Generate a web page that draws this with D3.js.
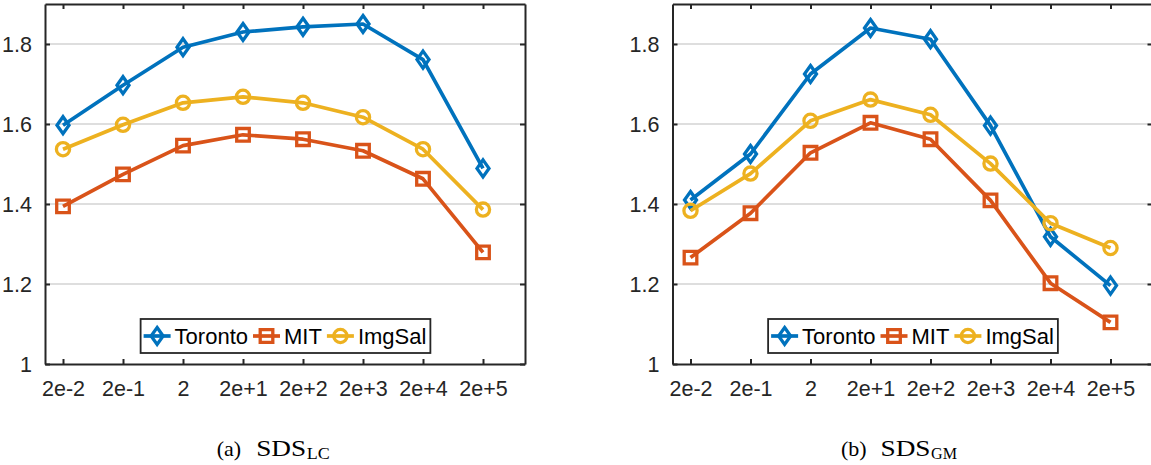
<!DOCTYPE html>
<html>
<head>
<meta charset="utf-8">
<script src="https://cdn.jsdelivr.net/npm/d3@7/dist/d3.min.js"></script>
<style>
  html, body { margin: 0; padding: 0; background: #fff; }
  svg { display: block; }
</style>
</head>
<body>
<svg id="fig" width="1151" height="465"></svg>
<script>
// Parameter settings on the x axis
const categories = ["2e-2", "2e-1", "2", "2e+1", "2e+2", "2e+3", "2e+4", "2e+5"];
const yTicks = [1, 1.2, 1.4, 1.6, 1.8];
const yTickLabels = ["1", "1.2", "1.4", "1.6", "1.8"];
const seriesNames = ["Toronto", "MIT", "ImgSal"];

// SDS_LC
const torontoLC = [1.597, 1.697, 1.792, 1.830, 1.843, 1.850, 1.761, 1.489];
const mitLC     = [1.394, 1.474, 1.546, 1.573, 1.562, 1.533, 1.463, 1.279];
const imgsalLC  = [1.537, 1.598, 1.653, 1.668, 1.653, 1.617, 1.537, 1.386];

// SDS_GM
const torontoGM = [1.410, 1.525, 1.725, 1.840, 1.812, 1.596, 1.318, 1.196];
const mitGM     = [1.266, 1.377, 1.528, 1.603, 1.562, 1.409, 1.202, 1.104];
const imgsalGM  = [1.383, 1.476, 1.608, 1.661, 1.623, 1.501, 1.352, 1.290];

const colors = ["#0072BD", "#D95319", "#EDB120"];
const markers = ["diamond", "square", "circle"];
const axisColor = "#262626";
const fontSans = "'Liberation Sans', Arial, Helvetica, sans-serif";
const fontSerif = "'Liberation Serif', 'Times New Roman', Times, serif";

const svg = d3.select("#fig");

function markerPath(type) {
  if (type === "diamond") return "M0,-8.5L6,0L0,8.5L-6,0Z";
  if (type === "square") return "M-6.3,-6.3H6.3V6.3H-6.3Z";
  const r = 6.6;
  return `M${r},0A${r},${r} 0 1,1 ${-r},0A${r},${r} 0 1,1 ${r},0Z`;
}

function drawPanel(x0, series, caption, sub, capX) {
  const top = 4, bottom = 364, width = 480;
  const x = d3.scaleLinear().domain([-0.3, 7.7]).range([x0, x0 + width]);
  const y = d3.scaleLinear().domain([1, 1.9]).range([bottom, top]);
  const g = svg.append("g");

  // horizontal grid
  g.append("g").selectAll("line").data(yTicks.filter(t => t > 1)).join("line")
    .attr("x1", x0).attr("x2", x0 + width)
    .attr("y1", d => y(d)).attr("y2", d => y(d))
    .attr("stroke", "#dedede").attr("stroke-width", 2);

  // bottom axis with inward ticks
  const xAxis = d3.axisBottom(x).tickValues(d3.range(categories.length))
    .tickFormat(i => categories[i]).tickSizeInner(-5).tickSizeOuter(0).tickPadding(17);
  const gx = g.append("g").attr("transform", `translate(0,${bottom})`).call(xAxis);
  // top axis ticks
  const gxt = g.append("g").attr("transform", `translate(0,${top})`)
    .call(d3.axisTop(x).tickValues(d3.range(categories.length)).tickFormat("")
      .tickSizeInner(-5).tickSizeOuter(0));
  // left axis
  const yAxis = d3.axisLeft(y).tickValues(yTicks)
    .tickFormat((d, i) => yTickLabels[i]).tickSizeInner(-5).tickSizeOuter(0).tickPadding(13);
  const gy = g.append("g").attr("transform", `translate(${x0},0)`).call(yAxis);
  // right axis ticks
  const gyr = g.append("g").attr("transform", `translate(${x0 + width},0)`)
    .call(d3.axisRight(y).tickValues(yTicks).tickFormat("").tickSizeInner(-5).tickSizeOuter(0));

  [gx, gxt, gy, gyr].forEach(a => {
    a.select(".domain").attr("stroke", axisColor).attr("stroke-width", 2);
    a.selectAll(".tick line").attr("stroke", axisColor).attr("stroke-width", 2);
    a.selectAll(".tick text").attr("fill", axisColor)
      .style("font-family", fontSans).style("font-size", "21.5px");
  });
  gx.selectAll(".tick text").attr("dy", "0.71em");
  gy.selectAll(".tick text").attr("dy", "0.35em");

  // series lines and markers
  const line = d3.line().x((d, i) => x(i)).y(d => y(d));
  series.forEach((vals, s) => {
    g.append("path").datum(vals).attr("d", line)
      .attr("fill", "none").attr("stroke", colors[s]).attr("stroke-width", 3.7)
      .attr("stroke-linejoin", "round");
    g.append("g").selectAll("path").data(vals).join("path")
      .attr("transform", (d, i) => `translate(${x(i)},${y(d)})`)
      .attr("d", markerPath(markers[s]))
      .attr("fill", "none").attr("stroke", colors[s]).attr("stroke-width", 3.3);
  });

  // legend
  const lg = g.append("g");
  const items = lg.selectAll("g").data(seriesNames).join("g");
  const texts = items.append("text").text(d => d)
    .attr("fill", "#000").style("font-family", fontSans).style("font-size", "22px");
  const sampleW = 27, gapAfterSample = 4, gapBetween = 5, padL = 3, padR = 4;
  let cx = 0;
  const layout = [];
  texts.each(function (d, i) {
    const w = this.getComputedTextLength();
    layout.push({ start: cx, w });
    cx += sampleW + gapAfterSample + w + (i < seriesNames.length - 1 ? gapBetween : 0);
  });
  const boxW = padL + cx + padR, boxH = 34;
  const boxX = x0 + width / 2 - boxW / 2 + 0.5, boxY = 319;
  lg.insert("rect", ":first-child").attr("x", boxX).attr("y", boxY)
    .attr("width", boxW).attr("height", boxH)
    .attr("fill", "#fff").attr("stroke", axisColor).attr("stroke-width", 1.8);
  const midY = boxY + boxH / 2;
  items.each(function (d, i) {
    const it = d3.select(this);
    const sx = boxX + padL + layout[i].start;
    it.insert("line", "text").attr("x1", sx).attr("x2", sx + sampleW)
      .attr("y1", midY).attr("y2", midY)
      .attr("stroke", colors[i]).attr("stroke-width", 3.7);
    it.insert("path", "text").attr("transform", `translate(${sx + sampleW / 2},${midY})`)
      .attr("d", markerPath(markers[i]))
      .attr("fill", "none").attr("stroke", colors[i]).attr("stroke-width", 3.3);
    it.select("text").attr("x", sx + sampleW + gapAfterSample).attr("y", midY)
      .attr("dy", "0.36em");
  });

  // caption: "(a)  SDS" with subscript
  const capG = svg.append("g").attr("fill", "#000").style("font-family", fontSerif);
  capG.append("text").attr("x", capX).attr("y", 456).style("font-size", "22px")
    .text(caption);
  capG.append("text").attr("x", capX + 39.5).attr("y", 456).style("font-size", "23px")
    .attr("textLength", 50).attr("lengthAdjust", "spacingAndGlyphs").text("SDS");
  capG.append("text").attr("x", capX + 90).attr("y", 459).style("font-size", "17px")
    .attr("textLength", sub === "LC" ? 23 : 26).attr("lengthAdjust", "spacingAndGlyphs").text(sub);
}

drawPanel(45, [torontoLC, mitLC, imgsalLC], "(a)", "LC", 216.7);
drawPanel(672.5, [torontoGM, mitGM, imgsalGM], "(b)", "GM", 841);
</script>
</body>
</html>
